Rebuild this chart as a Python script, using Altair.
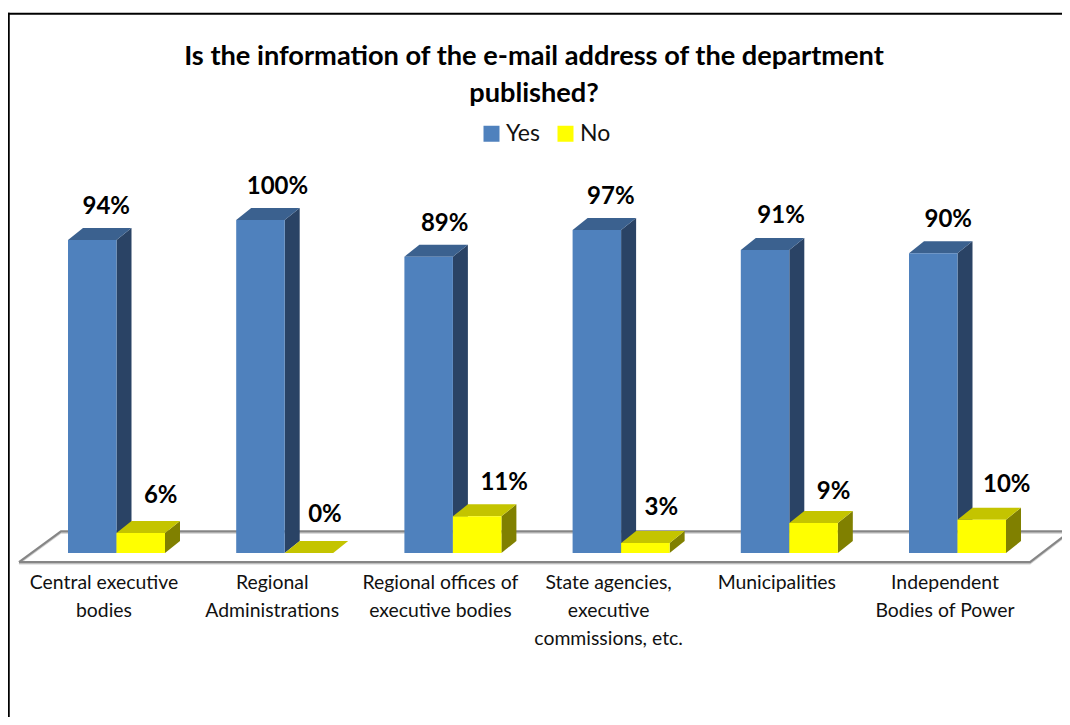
import json
import altair as alt
import pandas as pd

categories = ["Central executive bodies", "Regional Administrations", "Regional offices of executive bodies",
              "State agencies, executive commissions, etc.", "Municipalities", "Independent Bodies of Power"]
category_lines = [["Central executive", "bodies"], ["Regional", "Administrations"],
                  ["Regional offices of", "executive bodies"],
                  ["State agencies,", "executive", "commissions, etc."],
                  ["Municipalities"], ["Independent", "Bodies of Power"]]
yes_values = [94, 100, 89, 97, 91, 90]
no_values = [6, 0, 11, 3, 9, 10]
series_names = ["Yes", "No"]
title_lines = ["Is the information of the e-mail address of the department", "published?"]

FONT = "Lato"
W, H = 1054, 709
PX_X = 168.2              # pixels per category
PX_Y = 3.33               # pixels per percentage point
X0, Y0 = 60.0, 545.0      # chart-pixel position of category 0 left edge / value 0
BAR = 48.5 / PX_X         # bar width in category units
DX = 15.0 / PX_X          # 3-D depth, category units
DY = 12.0 / PX_Y          # 3-D depth, percentage points
# data-label placement relative to each bar, in pixels (layout only)
LABEL_NUDGE = {"Yes": [14, 17, 16, 14, 16, 15], "No": [20, 16, 27, 16, 20, 25]}
LABEL_RISE = {"Yes": [33, 33, 33, 33, 34, 33], "No": [37, 38, 33, 35, 31, 35]}

x_scale = alt.Scale(domain=[-X0 / PX_X, (W - X0) / PX_X], nice=False, zero=False)
y_scale = alt.Scale(domain=[(Y0 - H) / PX_Y, Y0 / PX_Y], nice=False, zero=False)

front, top, side, labels = [], [], [], []
for s, (name, vals) in enumerate(zip(series_names, [yes_values, no_values])):
    for i, v in enumerate(vals):
        l = i + s * BAR
        r = l + BAR
        key = f"{name}{i}"
        front.append(dict(series=name, l=l, r=r, v=v, base=0))
        top.append(dict(key=key, series=name, y=v, xa=l, xb=r))
        top.append(dict(key=key, series=name, y=v + DY, xa=l + DX, xb=r + DX))
        side.append(dict(key=key, series=name, x=r, y=v, y2=0))
        side.append(dict(key=key, series=name, x=r + DX, y=v + DY, y2=DY))
        labels.append(dict(series=name, x=(l + r) / 2 + LABEL_NUDGE[name][i] / PX_X,
                           y=v + LABEL_RISE[name][i] / PX_Y, t=f"{v}%"))

front, top, side, labels = map(pd.DataFrame, (front, top, side, labels))

colors = {"Yes": ("#4F81BD", "#3B618F", "#2A4365"), "No": ("#FFFF00", "#C4C400", "#808000")}

X = lambda f: alt.X(f, type="quantitative", scale=x_scale, axis=None)
Y = lambda f: alt.Y(f, type="quantitative", scale=y_scale, axis=None)

floor = pd.DataFrame(dict(
    o=[0, 1, 2, 3],
    x=[(19 - 68) / PX_X, (61 - 68) / PX_X, (1070 - 68) / PX_X, (1030 - 68) / PX_X],
    y=[-2.75, 6.5, 6.5, -2.75],
))
floor = pd.concat([floor, floor.iloc[[0]].assign(o=4)])
floor_shadow = floor.assign(y=floor.y - 1.6 / PX_Y)

layers = [
    alt.Chart(floor_shadow).mark_line(color="#D0D0D0", strokeWidth=1.5, strokeJoin="miter").encode(
        x=X("x"), y=Y("y"), order="o:Q"),
    alt.Chart(floor).mark_line(color="#868686", strokeWidth=2.2, strokeJoin="miter").encode(
        x=X("x"), y=Y("y"), order="o:Q"),
]

for name in series_names:
    f, t, sd = colors[name]
    layers.append(alt.Chart(side[side.series == name]).mark_area(color=sd).encode(
        x=X("x"), y=Y("y"), y2="y2", detail="key:N"))
    layers.append(alt.Chart(top[top.series == name]).mark_area(color=t, orient="horizontal").encode(
        y=Y("y"), x=X("xa"), x2="xb", detail="key:N"))
    layers.append(alt.Chart(front[front.series == name]).mark_rect().encode(
        x=X("l"), x2="r", y=Y("base"), y2="v",
        color=alt.Color("series:N",
                        scale=alt.Scale(domain=series_names, range=[colors[n][0] for n in series_names]),
                        legend=alt.Legend(title=None, orient="none", legendX=472, legendY=114,
                                          direction="horizontal", symbolType="square", symbolSize=256,
                                          symbolStrokeWidth=0, symbolOpacity=1, labelFont=FONT, labelFontSize=23,
                                          labelColor="#111", labelLimit=100, columnPadding=14, labelOffset=3))))

layers.append(alt.Chart(labels).mark_text(font=FONT, fontSize=24, fontWeight="bold", color="#000",
                                          baseline="middle").encode(x=X("x"), y=Y("y"), text="t:N"))

# category axis: real tick labels, pulled up under the floor
centers = [i + 35.5 / PX_X for i in range(6)]
axis_layer = alt.Chart(pd.DataFrame(dict(x=centers))).mark_point(opacity=0).encode(
    x=alt.X("x:Q", scale=x_scale,
            axis=alt.Axis(values=centers, domain=False, ticks=False, grid=False, title=None,
                          offset=-(H - 565), labelPadding=0, labelFont=FONT, labelFontSize=19.4,
                          labelColor="#111", labelBaseline="top", labelLineHeight=28, labelLimit=300,
                          labelOverlap=False, labelFlush=False,
                          labelExpr=f"{json.dumps(category_lines)}[round(datum.value - {35.5 / PX_X})]")),
    y=alt.value(0))
layers.append(axis_layer)

layers.append(alt.Chart(pd.DataFrame({"a": [0]})).mark_rule(color="#000", strokeWidth=2.5).encode(
    x=alt.value(0.5), y=alt.value(4.7), y2=alt.value(H)))
layers.append(alt.Chart(pd.DataFrame({"a": [0]})).mark_rule(color="#000", strokeWidth=2).encode(
    x=alt.value(0), x2=alt.value(W), y=alt.value(5.7)))

chart = alt.layer(*layers).resolve_axis(x="independent").properties(
    width=W, height=H, padding=0, autosize=alt.AutoSizeParams(type="none"), background="white",
    title=alt.TitleParams(text=title_lines, font=FONT, fontSize=27.2, fontWeight="bold", color="#000",
                          anchor="middle", frame="group", baseline="top", lineHeight=37,
                          offset=0, dy=103, dx=-1),
).configure_view(stroke=None)

chart.save("out.html", embed_options={"renderer": "svg", "actions": False})
